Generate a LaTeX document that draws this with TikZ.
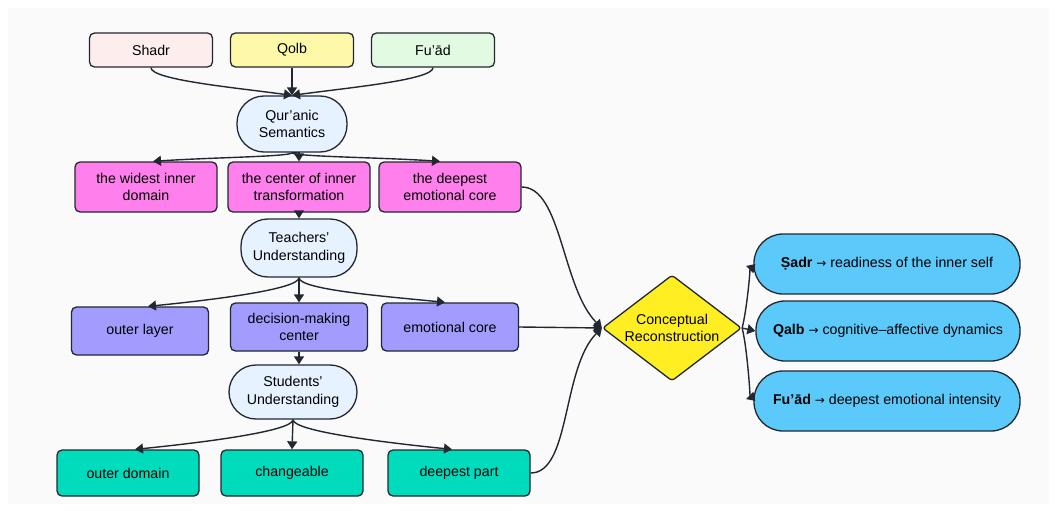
\documentclass[tikz,border=0pt]{standalone}
\usepackage{fontspec}
\setmainfont{Liberation Sans}
\newfontfamily\symfont{DejaVu Sans}
\usetikzlibrary{arrows.meta,shapes.geometric}
\definecolor{bgc}{HTML}{FAFAFA}
\definecolor{edgec}{HTML}{222831}
\definecolor{shadrc}{HTML}{FDEDED}
\definecolor{qolbc}{HTML}{FDF9A8}
\definecolor{fuadc}{HTML}{E2F9E2}
\definecolor{lightc}{HTML}{E6F2FF}
\definecolor{pinkc}{HTML}{FF80EC}
\definecolor{purpc}{HTML}{A29CFE}
\definecolor{greenc}{HTML}{00DBBC}
\definecolor{yellc}{HTML}{FFEF22}
\definecolor{bluec}{HTML}{5CC9FB}
\newcommand{\rarr}{{\symfont\fontsize{12}{14}\selectfont →}}
\tikzset{
  base/.style={draw=edgec, line width=1.3pt, align=center, font=\fontsize{14.2}{17.5}\selectfont, inner sep=2pt},
  topbox/.style={base, rounded corners=5pt, minimum width=123pt, minimum height=34pt},
  colbox/.style={base, rounded corners=5pt, minimum width=142pt, minimum height=50pt},
  stad/.style={base, fill=lightc, rounded corners=27pt, minimum height=56pt},
  bstad/.style={base, fill=bluec, rounded corners=29pt, minimum width=266pt, minimum height=60pt},
  link/.style={draw=edgec, line width=1.4pt, -{Triangle[length=8pt,width=10pt]}},
  plain/.style={draw=edgec, line width=1.4pt}
}
\begin{document}
\begin{tikzpicture}[x=1pt,y=-1pt]
\useasboundingbox (0,0) rectangle (1061,511);
\fill[white] (0,0) rectangle (1061,511);
\fill[bgc] (8,8) rectangle (1049,504);

% top row
\node[topbox, fill=shadrc] (shadr) at (151,50) {Shadr};
\node[topbox, fill=qolbc] (qolb) at (292,50) {Qolb};
\node[topbox, fill=fuadc] (fuad) at (433,50) {Fu’ād};
\node[stad, minimum width=110pt] (quran) at (292,124) {Qur’anic\\Semantics};

% pink row
\node[colbox, fill=pinkc] (wide) at (146,187) {the widest inner\\domain};
\node[colbox, fill=pinkc] (center) at (299,187) {the center of inner\\transformation};
\node[colbox, fill=pinkc] (deep) at (450,187) {the deepest\\emotional core};

\node[stad, minimum width=116pt, minimum height=58pt] (teach) at (299,248) {Teachers’\\Understanding};

% purple row
\node[colbox, fill=purpc, minimum width=137pt, minimum height=48pt] (outer) at (140,331) {outer layer};
\node[colbox, fill=purpc, minimum width=137pt, minimum height=48pt] (decis) at (299,327) {decision-making\\center};
\node[colbox, fill=purpc, minimum width=137pt, minimum height=48pt] (emot) at (450,327) {emotional core};

\node[stad, minimum width=128pt, minimum height=54pt] (stud) at (293,392) {Students’\\Understanding};

% green row
\node[colbox, fill=greenc, minimum height=46pt] (odom) at (128,473) {outer domain};
\node[colbox, fill=greenc, minimum height=46pt] (chg) at (292,473) {changeable};
\node[colbox, fill=greenc, minimum height=46pt] (dpart) at (459,473) {deepest part};

% diamond
\node[base, fill=yellc, diamond, aspect=1.32, minimum width=139pt, minimum height=106pt, inner sep=0pt, rounded corners=3pt] (concept) at (672,328) {Conceptual\\Reconstruction};

% blue
\node[bstad] (b1) at (887,264) {\textbf{Ṣadr} \rarr\ readiness of the inner self};
\node[bstad, minimum width=264pt] (b2) at (888,331) {\textbf{Qalb} \rarr\ cognitive–affective dynamics};
\node[bstad] (b3) at (887,401) {\textbf{Fu’ād} \rarr\ deepest emotional intensity};

% edges top
\draw[link] (shadr.south) .. controls +(0,12) and +(-60,-8) .. (quran.north);
\draw[link] (qolb.south) -- (quran.north);
\draw[link] (fuad.south) .. controls +(0,12) and +(60,-8) .. (quran.north);

\draw[link] (quran.south) .. controls +(0,4) and +(60,-4) .. ([xshift=7pt]wide.north);
\draw[link] (quran.south) -- (quran.south -| center.north) -- (center.north);
\draw[link] (quran.south) .. controls +(0,4) and +(-60,-4) .. ([xshift=-10pt]deep.north);

\draw[link] (center.south) -- (teach.north);

\draw[link] (teach.south) .. controls +(0,12) and +(60,-6) .. ([xshift=8pt]outer.north);
\draw[link] (teach.south) -- (decis.north);
\draw[link] (teach.south) .. controls +(0,12) and +(-60,-6) .. ([xshift=-5pt]emot.north);

\draw[link] (decis.south) -- (decis.south |- stud.north);

\draw[link] (stud.south) .. controls +(0,12) and +(60,-6) .. ([xshift=7pt]odom.north);
\draw[link] (stud.south) -- (chg.north);
\draw[link] (stud.south) .. controls +(0,12) and +(-60,-6) .. ([xshift=-7pt]dpart.north);

% into diamond
\draw[link] (deep.east) .. controls +(40,0) and +(-40,-40) .. (concept.west);
\draw[link] (emot.east) -- (concept.west);
\draw[link] (dpart.east) .. controls +(40,0) and +(-40,40) .. (concept.west);

% out of diamond
\draw[link] (concept.east) .. controls +(5,-20) and +(-5,5) .. ([xshift=2pt]b1.west);
\draw[link] (concept.east) -- (b2.west);
\draw[link] (concept.east) .. controls +(5,20) and +(-5,-5) .. ([xshift=2pt]b3.west);
\end{tikzpicture}
\end{document}
